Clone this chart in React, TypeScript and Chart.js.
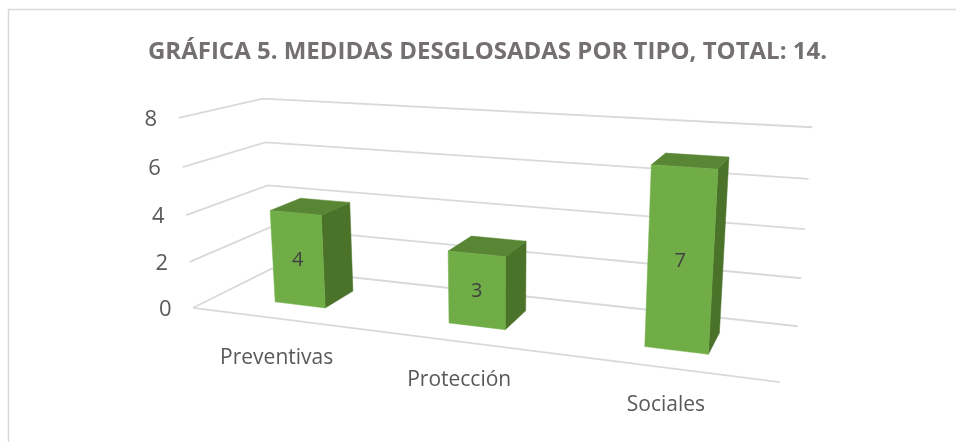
import React, { useEffect, useRef } from "react";
import { Chart, registerables } from "chart.js";

Chart.register(...registerables);

const categories = ["Preventivas", "Protección", "Sociales"];
const values = [4, 3, 7];
const valueTicks = [0, 2, 4, 6, 8];
const chartTitle = "GRÁFICA 5. MEDIDAS DESGLOSADAS POR TIPO, TOTAL: 14.";

// Camera calibration: where the corners of the unit plot box (u across, v up, w deep) land.
const CAMERA_ANCHORS: [number, number, number, number, number][] = [
  [0, 0, 0, 193.3, 307.3],
  [1, 0, 0, 780, 382.3],
  [0, 0, 1, 272, 269],
  [1, 0, 1, 797.7, 326],
  [0, 1, 1, 263, 98.3],
  [1, 1, 1, 812.3, 127.3],
  [0, 1, 0, 178.7, 118.3],
];
const BAR_DEPTH_FRONT = 0.3;
const BAR_DEPTH_BACK = 0.7;

function solveCamera(): number[] {
  const S = 1000;
  const rows: number[][] = [];
  const rhs: number[] = [];
  for (const [u, v, w, x, y] of CAMERA_ANCHORS) {
    const X = x / S;
    const Y = y / S;
    rows.push([u, v, w, 1, 0, 0, 0, 0, -X * u, -X * v, -X * w]);
    rhs.push(X);
    rows.push([0, 0, 0, 0, u, v, w, 1, -Y * u, -Y * v, -Y * w]);
    rhs.push(Y);
  }
  const n = 11;
  const M: number[][] = [];
  for (let i = 0; i < n; i++) {
    const line = new Array(n + 1).fill(0);
    rows.forEach((r, k) => {
      for (let j = 0; j < n; j++) line[j] += r[i] * r[j];
      line[n] += r[i] * rhs[k];
    });
    line[i] += 1e-9;
    M.push(line);
  }
  for (let i = 0; i < n; i++) {
    let p = i;
    for (let k = i + 1; k < n; k++) if (Math.abs(M[k][i]) > Math.abs(M[p][i])) p = k;
    [M[i], M[p]] = [M[p], M[i]];
    for (let k = 0; k < n; k++) {
      if (k === i) continue;
      const f = M[k][i] / M[i][i];
      for (let j = i; j <= n; j++) M[k][j] -= f * M[i][j];
    }
  }
  return M.map((l, i) => l[n] / l[i]);
}

const cam = solveCamera();
function project(u: number, v: number, w: number): [number, number] {
  const d = cam[8] * u + cam[9] * v + cam[10] * w + 1;
  return [
    (1000 * (cam[0] * u + cam[1] * v + cam[2] * w + cam[3])) / d,
    (1000 * (cam[4] * u + cam[5] * v + cam[6] * w + cam[7])) / d,
  ];
}

function poly(ctx: CanvasRenderingContext2D, pts: [number, number][], fill: string) {
  ctx.beginPath();
  pts.forEach((p, i) => (i ? ctx.lineTo(p[0], p[1]) : ctx.moveTo(p[0], p[1])));
  ctx.closePath();
  ctx.fillStyle = fill;
  ctx.fill();
  ctx.strokeStyle = fill;
  ctx.lineWidth = 0.5;
  ctx.stroke();
}

const box3d = {
  id: "box3d",
  beforeDraw(chart: any) {
    const { ctx } = chart;
    ctx.save();
    ctx.fillStyle = "#ffffff";
    ctx.fillRect(0, 0, chart.width, chart.height);
    ctx.strokeStyle = "#D9D9D9";
    ctx.lineWidth = 1.5;
    ctx.beginPath();
    ctx.moveTo(8.5, chart.height);
    ctx.lineTo(8.5, 9.5);
    ctx.lineTo(chart.width, 9.5);
    ctx.stroke();
    ctx.restore();
  },
  beforeDatasetsDraw(chart: any) {
    const { ctx, scales } = chart;
    const xs = scales.x;
    const ys = scales.y;
    const nu = (px: number) => (px - xs.left) / xs.width;
    const nv = (py: number) => (ys.bottom - py) / ys.height;
    ctx.save();

    // Walls and floor
    ctx.strokeStyle = "#D9D9D9";
    ctx.lineWidth = 1.8;
    for (const t of valueTicks) {
      const v = nv(ys.getPixelForValue(t));
      const a = project(0, v, 0);
      const b = project(0, v, 1);
      const c = project(1, v, 1);
      ctx.beginPath();
      ctx.moveTo(a[0], a[1]);
      ctx.lineTo(b[0], b[1]);
      ctx.lineTo(c[0], c[1]);
      ctx.stroke();
      ctx.fillStyle = "#595959";
      ctx.font = '22px "Open Sans"';
      ctx.textAlign = "center";
      ctx.textBaseline = "middle";
      ctx.fillText(String(t), a[0] - 28, a[1] + 2);
    }
    const f0 = project(0, 0, 0);
    const f1 = project(1, 0, 0);
    ctx.beginPath();
    ctx.moveTo(f0[0], f0[1]);
    ctx.lineTo(f1[0], f1[1]);
    ctx.stroke();

    // Bars
    const meta = chart.getDatasetMeta(0);
    meta.data.forEach((bar: any, i: number) => {
      const half = bar.width / 2;
      const u0 = nu(bar.x - half);
      const u1 = nu(bar.x + half);
      const vb = nv(bar.base);
      const vt = nv(bar.y);
      const wf = BAR_DEPTH_FRONT;
      const wb = BAR_DEPTH_BACK;
      poly(ctx, [project(u1, vb, wf), project(u1, vb, wb), project(u1, vt, wb), project(u1, vt, wf)], "#4A7229");
      poly(ctx, [project(u0, vt, wf), project(u1, vt, wf), project(u1, vt, wb), project(u0, vt, wb)], "#588635");
      poly(ctx, [project(u0, vb, wf), project(u1, vb, wf), project(u1, vt, wf), project(u0, vt, wf)], "#70AD47");
      const c = project((u0 + u1) / 2, (vb + vt) / 2, wf);
      ctx.fillStyle = "#404040";
      ctx.font = '20px "Open Sans"';
      ctx.textAlign = "center";
      ctx.textBaseline = "middle";
      ctx.fillText(String(values[i]), c[0], c[1] + 1);

      const g = project(nu(xs.getPixelForTick(i)), 0, 0);
      ctx.fillStyle = "#595959";
      ctx.font = '21px "Open Sans"';
      ctx.fillText(categories[i], g[0], g[1] + 40 - i * 1.5);
    });
    ctx.restore();
    return false;
  },
};

export default function App() {
  const ref = useRef<HTMLCanvasElement | null>(null);
  useEffect(() => {
    const chart = new Chart(ref.current as HTMLCanvasElement, {
      type: "bar",
      data: {
        labels: categories,
        datasets: [{ label: "Medidas", data: values, backgroundColor: "#70AD47", barPercentage: 0.3, categoryPercentage: 1 }],
      },
      options: {
        responsive: false,
        animation: false,
        layout: { padding: { left: 19, top: 38 } },
        plugins: {
          legend: { display: false },
          tooltip: { enabled: false },
          title: {
            display: true,
            text: chartTitle,
            color: "#757070",
            font: { family: '"Open Sans"', size: 24, weight: "bold" },
            padding: { top: 0, bottom: 20 },
          },
        },
        scales: {
          x: { display: false },
          y: { display: false, min: 0, max: 8, ticks: { stepSize: 2 } },
        },
      },
      plugins: [box3d],
    } as any);
    return () => chart.destroy();
  }, []);
  return (
    <div style={{ position: "absolute", left: 0, top: 0, width: 956, height: 442 }}>
      <canvas ref={ref} width={956} height={442} style={{ display: "block" }} />
    </div>
  );
}
